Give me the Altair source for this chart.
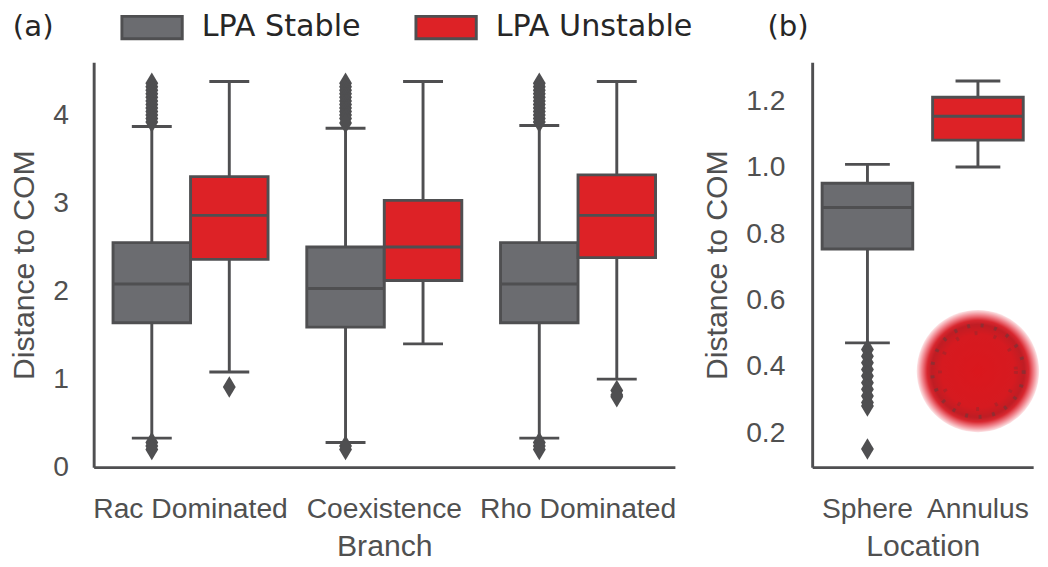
import altair as alt
import pandas as pd

# ---------------- data ----------------
branches = ["Rac Dominated", "Coexistence", "Rho Dominated"]
groups = ["LPA Stable", "LPA Unstable"]
palette = ["#6b6c70", "#dd2226"]

# panel (a) box statistics (per branch)
stable_lo = [0.33, 0.28, 0.33]
stable_q1 = [1.64, 1.59, 1.64]
stable_med = [2.08, 2.03, 2.08]
stable_q3 = [2.55, 2.50, 2.55]
stable_hi = [3.87, 3.85, 3.88]

unstable_lo = [1.08, 1.40, 1.00]
unstable_q1 = [2.36, 2.12, 2.38]
unstable_med = [2.86, 2.50, 2.86]
unstable_q3 = [3.30, 3.03, 3.32]
unstable_hi = [4.38, 4.38, 4.38]

# panel (a) outliers
stable_out_rac = [4.36, 4.32, 4.28, 4.24, 4.20, 4.16, 4.12, 4.08, 4.04, 4.00, 3.96, 3.92, 0.28, 0.24, 0.20]
stable_out_coex = [4.36, 4.32, 4.28, 4.24, 4.20, 4.16, 4.12, 4.08, 4.04, 4.00, 3.96, 3.91, 0.24, 0.20]
stable_out_rho = [4.36, 4.32, 4.28, 4.24, 4.20, 4.16, 4.12, 4.08, 4.04, 4.00, 3.96, 3.92, 0.28, 0.24, 0.20]
unstable_out_rac = [0.91]
unstable_out_coex = []
unstable_out_rho = [0.87, 0.82, 0.80]

# panel (b) box statistics
locations = ["Sphere", "Annulus"]
loc_group = ["LPA Stable", "LPA Unstable"]
loc_lo = [0.470, 1.000]
loc_q1 = [0.753, 1.081]
loc_med = [0.878, 1.153]
loc_q3 = [0.951, 1.210]
loc_hi = [1.008, 1.259]
sphere_out = [0.45, 0.43, 0.41, 0.39, 0.37, 0.35, 0.33, 0.31, 0.29, 0.28, 0.15]
annulus_out = []

# inset cell cloud position
inset_loc = ["Annulus"]
inset_val = [0.385]

# ---------------- tables ----------------
box_a = pd.DataFrame({
    "branch": branches * 2,
    "group": [groups[0]] * 3 + [groups[1]] * 3,
    "lo": stable_lo + unstable_lo,
    "q1": stable_q1 + unstable_q1,
    "med": stable_med + unstable_med,
    "q3": stable_q3 + unstable_q3,
    "hi": stable_hi + unstable_hi,
})
out_rows = []
for b, vals in zip(branches, [stable_out_rac, stable_out_coex, stable_out_rho]):
    out_rows += [{"branch": b, "group": groups[0], "v": v} for v in vals]
for b, vals in zip(branches, [unstable_out_rac, unstable_out_coex, unstable_out_rho]):
    out_rows += [{"branch": b, "group": groups[1], "v": v} for v in vals]
out_a = pd.DataFrame(out_rows)

box_b = pd.DataFrame({"loc": locations, "group": loc_group, "lo": loc_lo, "q1": loc_q1,
                      "med": loc_med, "q3": loc_q3, "hi": loc_hi})
out_b_rows = []
for l, g, vals in zip(locations, loc_group, [sphere_out, annulus_out]):
    out_b_rows += [{"loc": l, "group": g, "v": v} for v in vals]
out_b = pd.DataFrame(out_b_rows)
inset = pd.DataFrame({"loc": inset_loc, "v": inset_val})

# ---------------- styling ----------------
LINE = "#4f4f51"
SW = 3
diamond = "M0,-1L0.6,0L0,1L-0.6,0Z"
rect_sym = "M-1,-1L4.39,-1L4.39,1L-1,1Z"

color_enc = alt.Color("group:N", scale=alt.Scale(domain=groups, range=palette),
                      legend=alt.Legend(orient="none", legendX=25, legendY=-51,
                                        direction="horizontal", title=None,
                                        symbolType=rect_sym, symbolSize=529,
                                        symbolStrokeColor=LINE, symbolStrokeWidth=3,
                                        symbolOpacity=1, labelLimit=0,
                                        labelFont="DejaVu Sans", labelFontSize=31,
                                        labelColor="#262626", labelOffset=55,
                                        columnPadding=50))

title_style = dict(anchor="start", frame="group", offset=21, font="DejaVu Sans",
                   fontSize=30, fontWeight="normal", color="#262626")

# ---------------- panel (a) ----------------
xa = alt.X("branch:N", sort=branches,
           scale=alt.Scale(paddingInner=0.2, paddingOuter=0.1),
           axis=alt.Axis(title="Branch", labelAngle=0, labelPadding=29, titlePadding=9,
                         labelLimit=0))
xoa = alt.XOffset("group:N", sort=groups, scale=alt.Scale(paddingInner=0, paddingOuter=0))
ya_scale = alt.Scale(domain=[0, 4.6], nice=False, zero=False)
ya_axis = alt.Axis(title="Distance to COM", values=[0, 1, 2, 3, 4], format="d",
                   labelPadding=26, titlePadding=13)

base_a = alt.Chart(box_a).encode(x=xa, xOffset=xoa)
whisk_a = base_a.mark_rule(color=LINE, strokeWidth=SW).encode(
    y=alt.Y("lo:Q", scale=ya_scale, axis=ya_axis), y2="hi:Q")
box_mark_a = base_a.mark_bar(stroke=LINE, strokeWidth=SW, opacity=1).encode(
    y="q1:Q", y2="q3:Q", color=color_enc)
med_a = base_a.mark_tick(color=LINE, size=80, thickness=SW, opacity=1).encode(y="med:Q")
caplo_a = base_a.mark_tick(color=LINE, size=41, thickness=SW, opacity=1).encode(y="lo:Q")
caphi_a = base_a.mark_tick(color=LINE, size=41, thickness=SW, opacity=1).encode(y="hi:Q")
outl_a = alt.Chart(out_a).mark_point(shape=diamond, filled=True, size=484, color=LINE,
                                     opacity=1, strokeWidth=0).encode(
    x=xa, xOffset=xoa, y="v:Q")

panel_a = alt.layer(whisk_a, box_mark_a, med_a, caplo_a, caphi_a, outl_a).properties(
    width=597, height=416,
    title=alt.TitleParams("(a)", dx=-83, **title_style))

# ---------------- panel (b) ----------------
xb = alt.X("loc:N", sort=locations,
           scale=alt.Scale(paddingInner=0.18, paddingOuter=0.09),
           axis=alt.Axis(title="Location", labelAngle=0, labelPadding=29, titlePadding=9,
                         labelLimit=0))
yb_scale = alt.Scale(domain=[0.0955, 1.316], nice=False, zero=False)
yb_axis = alt.Axis(title="Distance to COM", values=[0.2, 0.4, 0.6, 0.8, 1.0, 1.2],
                   format=".1f", labelPadding=28, titlePadding=13)

base_b = alt.Chart(box_b).encode(x=xb)
whisk_b = base_b.mark_rule(color=LINE, strokeWidth=SW).encode(
    y=alt.Y("lo:Q", scale=yb_scale, axis=yb_axis), y2="hi:Q")
box_mark_b = base_b.mark_bar(stroke=LINE, strokeWidth=SW, opacity=1).encode(
    y="q1:Q", y2="q3:Q", color=alt.Color("group:N", scale=alt.Scale(domain=groups, range=palette)))
med_b = base_b.mark_tick(color=LINE, size=93, thickness=SW, opacity=1).encode(y="med:Q")
caplo_b = base_b.mark_tick(color=LINE, size=46, thickness=SW, opacity=1).encode(y="lo:Q")
caphi_b = base_b.mark_tick(color=LINE, size=46, thickness=SW, opacity=1).encode(y="hi:Q")
outl_b = alt.Chart(out_b).mark_point(shape=diamond, filled=True, size=484, color=LINE,
                                     opacity=1, strokeWidth=0).encode(x=xb, y="v:Q")
cloud = alt.Gradient(gradient="radial", stops=[
    alt.GradientStop(color="#da171d", offset=0),
    alt.GradientStop(color="#d61a20", offset=0.6),
    alt.GradientStop(color="#bf1d24", offset=0.76),
    alt.GradientStop(color="#d8262e", offset=0.83),
    alt.GradientStop(color="#ef7d86", offset=0.91),
    alt.GradientStop(color="#fde6e8", offset=1.0),
])
disk = alt.Chart(inset).mark_point(shape="circle", filled=True, size=15800, fill=cloud,
                                   opacity=1, strokeWidth=0).encode(x=xb, y="v:Q")
speck_outer = alt.Chart(inset).mark_point(shape="circle", filled=False, size=8836,
                                          stroke="#6a3a3c", strokeWidth=4, opacity=0.55,
                                          strokeDash=[3, 11]).encode(x=xb, y="v:Q")
speck_inner = alt.Chart(inset).mark_point(shape="circle", filled=False, size=6084,
                                          stroke="#7a3034", strokeWidth=4, opacity=0.35,
                                          strokeDash=[3, 17]).encode(x=xb, y="v:Q")

panel_b = alt.layer(whisk_b, box_mark_b, med_b, caplo_b, caphi_b, outl_b,
                    disk, speck_outer, speck_inner).properties(
    width=227, height=416,
    title=alt.TitleParams("(b)", dx=-46, **title_style))

chart = alt.hconcat(panel_a, panel_b, spacing=26).resolve_scale(
    x="independent", y="independent", color="shared"
).configure(padding={"top": -3, "left": 0, "right": 0, "bottom": 0}).configure_view(
    stroke=None
).configure_axis(
    grid=False, ticks=False, domainColor=LINE, domainWidth=3,
    labelFont="Liberation Sans", labelFontSize=29, labelColor="#505050",
    titleFont="Liberation Sans", titleFontSize=31, titleFontWeight="normal",
    titleColor="#505050",
)

chart.save("out.html", embed_options={"renderer": "svg", "actions": False})
